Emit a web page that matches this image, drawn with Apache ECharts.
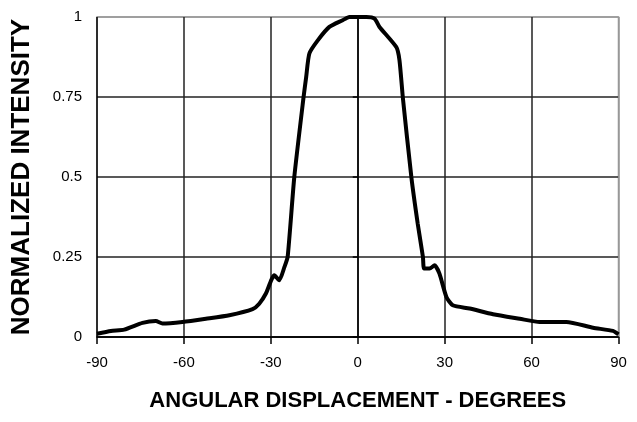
<!DOCTYPE html>
<html>
<head>
<meta charset="utf-8">
<script src="https://cdn.jsdelivr.net/npm/echarts@6/dist/echarts.min.js"></script>
<style>html,body{margin:0;padding:0;background:#fff}#c{width:637px;height:422px}</style>
</head>
<body>
<div id="c"></div>
<script>
var angles = [-90,-85.2,-80.6,-74.3,-69.7,-67.4,-60.5,-52.4,-44.3,-36.3,-34,-31.7,-28.8,-27.1,-25.3,-24.2,-21.9,-18.7,-17.8,-16.7,-13.8,-9.8,-5.2,-2.9,0,3,5.8,7.5,13.3,14.4,15.6,18.5,20.7,22.5,22.9,24.8,26.5,28.2,30.6,32.8,38.6,46.7,55.9,62.8,72,81.2,88.1,90];
var intensity = [0.01,0.019,0.023,0.044,0.05,0.042,0.047,0.057,0.068,0.087,0.104,0.136,0.193,0.177,0.219,0.25,0.5,0.75,0.8125,0.886,0.927,0.969,0.99,1,1,1,0.995,0.969,0.906,0.865,0.745,0.5,0.354,0.25,0.214,0.214,0.224,0.198,0.125,0.099,0.089,0.071,0.057,0.047,0.047,0.029,0.019,0.008];
var xTicks = [-90,-60,-30,0,30,60,90];
var yTicks = [0,0.25,0.5,0.75,1];
var xTitle = 'ANGULAR DISPLACEMENT - DEGREES';
var yTitle = 'NORMALIZED INTENSITY';

var data = angles.map(function(a,i){return [a,intensity[i]];});
var font = "'Liberation Sans', Arial, sans-serif";
var chart = echarts.init(document.getElementById('c'));
chart.setOption({
  animation:false,
  grid:{left:97,right:18.5,top:17,bottom:85,show:true,borderColor:'#999',borderWidth:1.5},
  xAxis:{type:'value',min:xTicks[0],max:xTicks[xTicks.length-1],interval:30,
    name:xTitle,nameLocation:'middle',nameGap:53,
    nameTextStyle:{fontFamily:font,fontWeight:'bold',fontSize:22,color:'#000'},
    axisLine:{show:true,onZero:false,lineStyle:{color:'#000',width:1.5}},
    axisTick:{show:true,length:7,lineStyle:{color:'#000',width:1.5}},
    axisLabel:{fontFamily:font,fontSize:15,color:'#000',margin:18,formatter:function(v){return String(v);}},
    splitLine:{show:true,lineStyle:{color:['#000','#222','#222','#222','#222','#222','#999'],width:1.5}}
  },
  yAxis:{type:'value',min:0,max:1,interval:0.25,
    name:yTitle,nameLocation:'middle',nameGap:62,nameRotate:90,
    nameTextStyle:{fontFamily:font,fontWeight:'bold',fontSize:26,color:'#000'},
    axisLine:{show:true,lineStyle:{color:'#000',width:1.5}},
    axisTick:{show:true,length:5,lineStyle:{color:'#000',width:1.5}},
    axisLabel:{fontFamily:font,fontSize:15,color:'#000',margin:15,formatter:function(v){return String(v);}},
    splitLine:{show:true,lineStyle:{color:['#000','#222','#222','#222','#999'],width:1.5}}
  },
  series:[{type:'line',data:data,showSymbol:false,symbol:'none',smooth:0.2,
    lineStyle:{color:'#000',width:4},z:5}]
});
</script>
</body>
</html>
